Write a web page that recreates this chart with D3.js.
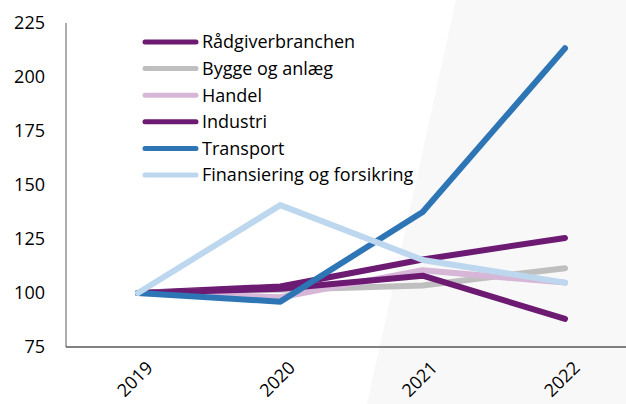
<!DOCTYPE html>
<html>
<head>
<meta charset="utf-8">
<script src="https://cdn.jsdelivr.net/npm/d3@7"></script>
<style>
  body { margin: 0; background: #fff; }
  svg text { font-family: "Open Sans", sans-serif; fill: #000; }
</style>
</head>
<body>
<svg id="chart" width="626" height="404"></svg>
<script>
const years = ['2019', '2020', '2021', '2022']
const yTicks = [75, 100, 125, 150, 175, 200, 225]

const raadgiver = [100, 103, 115.5, 125.5]
const bygge = [100, 101.5, 103.5, 111.5]
const handel = [100, 98, 110.5, 104.8]
const industri = [100, 102, 108, 88]
const transport = [100, 96, 137.5, 213.3]
const finans = [100, 140.7, 115.3, 104.8]

const names = ['Rådgiverbranchen', 'Bygge og anlæg', 'Handel', 'Industri', 'Transport', 'Finansiering og forsikring']
const colors = ['#6c1a72', '#bfbfbf', '#d6b7d8', '#6c1a72', '#2e75b6', '#bdd7ee']
const seriesList = [raadgiver, bygge, handel, industri, transport, finans]

const svg = d3.select('#chart')
const W = 626, H = 404

// light background band on the right
svg.append('path')
  .attr('d', 'M456,0 L626,0 L626,404 L367,404 Z')
  .attr('fill', '#f8f8f8')

const x = d3.scalePoint().domain(years).range([138, 565])
const y = d3.scaleLinear().domain([75, 225]).range([347, 23])

// y axis labels
svg.selectAll('.ylab')
  .data(yTicks)
  .enter()
  .append('text')
  .attr('class', 'ylab')
  .attr('x', 45)
  .attr('y', d => y(d))
  .attr('dy', '0.36em')
  .attr('text-anchor', 'end')
  .style('font-size', '18px')
  .text(d => d)

// axis lines
svg.append('line')
  .attr('x1', 66).attr('x2', 66)
  .attr('y1', y(225)).attr('y2', y(75))
  .attr('stroke', '#808080').attr('stroke-width', 1.3)
svg.append('line')
  .attr('x1', 66).attr('x2', W)
  .attr('y1', y(75)).attr('y2', y(75))
  .attr('stroke', '#595959').attr('stroke-width', 1.3)

// x labels, rotated
svg.selectAll('.xlab')
  .data(years)
  .enter()
  .append('text')
  .attr('class', 'xlab')
  .attr('text-anchor', 'end')
  .attr('transform', d => 'translate(' + (x(d) + 7) + ',' + 360 + ') rotate(-45)')
  .attr('dy', '0.7em')
  .style('font-size', '18px')
  .text(d => d)

// lines
const line = d3.line()
  .x((d, i) => x(years[i]))
  .y(d => y(d))

seriesList.forEach((s, i) => {
  svg.append('path')
    .datum(s)
    .attr('fill', 'none')
    .attr('stroke', colors[i])
    .attr('stroke-width', 6)
    .attr('stroke-linecap', 'round')
    .attr('stroke-linejoin', 'round')
    .attr('d', line)
})

// legend
const legend = svg.selectAll('.leg')
  .data(names)
  .enter()
  .append('g')
  .attr('class', 'leg')
  .attr('transform', (d, i) => 'translate(0,' + (42 + i * 26.6) + ')')

legend.append('line')
  .attr('x1', 145).attr('x2', 196)
  .attr('y1', 0).attr('y2', 0)
  .attr('stroke', (d, i) => colors[i])
  .attr('stroke-width', 5)
  .attr('stroke-linecap', 'round')

legend.append('text')
  .attr('x', 202)
  .attr('y', 0)
  .attr('dy', '0.36em')
  .style('font-size', '18px')
  .text(d => d)
</script>
</body>
</html>
